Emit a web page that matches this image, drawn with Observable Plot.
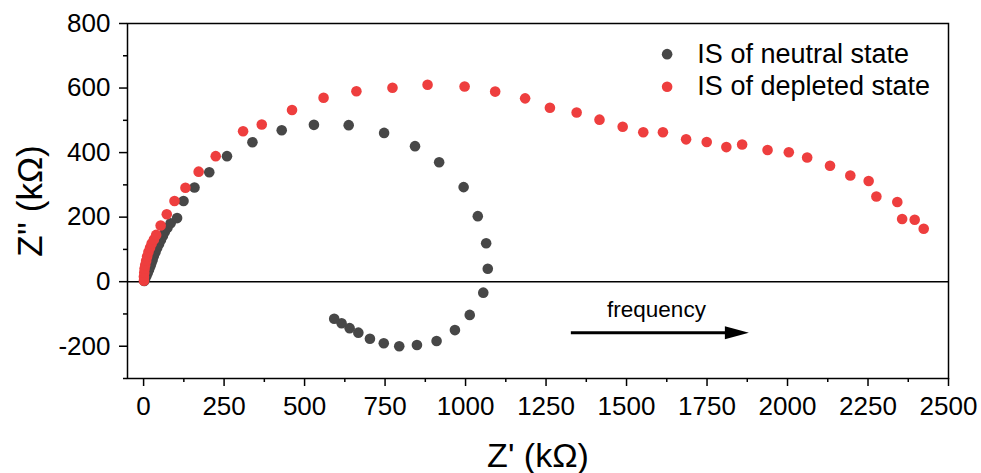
<!DOCTYPE html>
<html>
<head>
<meta charset="utf-8">
<script src="https://cdn.jsdelivr.net/npm/d3@7"></script>
<script src="https://cdn.jsdelivr.net/npm/@observablehq/plot@0.6"></script>
<style>
  body { margin: 0; background: #fff; }
  #chart svg { display: block; }
  g[aria-label="x-axis label"] text { font-size: 34px; }
  g[aria-label="y-axis label"] text { font-size: 35px; }
</style>
</head>
<body>
<div id="chart"></div>
<script>
// ---- data ----
const neutralX = [2, 5, 9, 13, 17, 21, 24, 28, 32, 37, 42, 48, 54, 60, 66, 74, 84, 104, 124, 158, 204, 259, 338, 429, 529, 637, 747, 843, 918, 994, 1038, 1064, 1069, 1055, 1013, 967, 910, 849, 794, 746, 703, 667, 640, 615, 592];
const neutralY = [2, 10, 19, 28, 38, 48, 57, 68, 80, 92, 104, 117, 130, 142, 155, 167, 181, 197, 250, 292, 339, 389, 432, 469, 486, 485, 461, 420, 370, 293, 203, 119, 40, -34, -103, -150, -184, -196, -200, -191, -177, -158, -144, -129, -115];

const depletedX = [1, 1, 2, 3, 5, 8, 11, 15, 20, 25, 32, 39, 53, 72, 96, 130, 171, 224, 309, 367, 461, 559, 661, 773, 882, 997, 1092, 1185, 1262, 1345, 1416, 1488, 1552, 1613, 1685, 1749, 1810, 1859, 1938, 2004, 2061, 2132, 2195, 2252, 2276, 2341, 2356, 2395, 2423];
const depletedY = [3, 15, 28, 40, 52, 65, 78, 92, 105, 118, 131, 145, 174, 209, 250, 291, 341, 389, 466, 487, 532, 570, 590, 601, 610, 605, 589, 568, 539, 524, 502, 480, 463, 463, 441, 433, 417, 425, 408, 401, 385, 359, 329, 312, 264, 247, 194, 192, 164];

const seriesNames = ["IS of neutral state", "IS of depleted state"];
const seriesColors = ["#474747", "#ee3e3e"];

const xDomain = [-50, 2500];
const yDomain = [-300, 800];
const xMajorTicks = [0, 250, 500, 750, 1000, 1250, 1500, 1750, 2000, 2250, 2500];
const xMinorTicks = [125, 375, 625, 875, 1125, 1375, 1625, 1875, 2125, 2375];
const yMajorTicks = [-200, 0, 200, 400, 600, 800];
const yMinorTicks = [-300, -100, 100, 300, 500, 700];

const xLabel = "Z' (kΩ)";
const yLabel = "Z'' (kΩ)";

// legend anchor (data coordinates)
const legendDotX = [1626, 1626];
const legendTextX = [1720, 1720];
const legendY = [705, 604];

// frequency arrow (data coordinates)
const arrowX1 = [1327];
const arrowX2 = [1880];
const arrowY = [-158];
const arrowLabel = ["frequency"];
const arrowLabelX = [1593];
const arrowLabelY = [-108];

// ---- build tables ----
const neutral = neutralX.map((x, i) => ({x, y: neutralY[i]}));
const depleted = depletedX.map((x, i) => ({x, y: depletedY[i]}));
const legend = seriesNames.map((name, i) => ({name, color: seriesColors[i], xd: legendDotX[i], xt: legendTextX[i], y: legendY[i]}));
const arrow = arrowX1.map((x1, i) => ({x1, x2: arrowX2[i], y: arrowY[i], label: arrowLabel[i], lx: arrowLabelX[i], ly: arrowLabelY[i]}));

const font = "'Liberation Sans', Arial, Helvetica, sans-serif";

const headShape = {
  draw(context, l) {
    context.moveTo(0, 0);
    context.lineTo(-6.5, -l);
    context.lineTo(6.5, -l);
    context.closePath();
  }
};

const chart = Plot.plot({
  width: 981,
  height: 473,
  marginLeft: 127,
  marginRight: 33,
  marginTop: 23,
  marginBottom: 95,
  style: {fontFamily: font, background: "white", color: "black"},
  x: {domain: xDomain},
  y: {domain: yDomain},
  marks: [
    Plot.ruleY([0], {stroke: "black", strokeWidth: 1.5}),
    Plot.dot(neutral, {x: "x", y: "y", r: 5.3, fill: seriesColors[0], stroke: "none"}),
    Plot.dot(depleted, {x: "x", y: "y", r: 5.3, fill: seriesColors[1], stroke: "none"}),
    Plot.link(arrow, {x1: "x1", x2: d => d.x2 - 40, y1: "y", y2: "y", stroke: "black", strokeWidth: 3}),
    Plot.vector(arrow, {x: "x2", y: "y", rotate: 270, length: 24, anchor: "start", shape: headShape, fill: "black", stroke: "none"}),
    Plot.text(arrow, {x: "lx", y: "ly", text: "label", fontSize: 22.5, lineAnchor: "bottom", fill: "black"}),
    Plot.dot(legend, {x: "xd", y: "y", r: 5.3, fill: "color", stroke: "none"}),
    Plot.text(legend, {x: "xt", y: "y", text: "name", textAnchor: "start", lineAnchor: "middle", fontSize: 27, fill: "black"}),
    Plot.axisX({ticks: xMajorTicks, tickSize: 8, tickPadding: 10, fontSize: 26, strokeWidth: 1.5, label: xLabel, labelArrow: "none", labelAnchor: "center", labelOffset: 88, tickFormat: d => String(d)}),
    Plot.axisX({ticks: xMinorTicks, tickSize: 4, strokeWidth: 1.5, text: null, label: null}),
    Plot.axisY({ticks: yMajorTicks, tickSize: 8, tickPadding: 9, fontSize: 26, strokeWidth: 1.5, label: yLabel, labelArrow: "none", labelAnchor: "center", labelOffset: 110, tickFormat: d => String(d)}),
    Plot.axisY({ticks: yMinorTicks, tickSize: 4, strokeWidth: 1.5, text: null, label: null}),
    Plot.frame({stroke: "black", strokeWidth: 1.5})
  ]
});

document.getElementById("chart").appendChild(chart);
</script>
</body>
</html>
